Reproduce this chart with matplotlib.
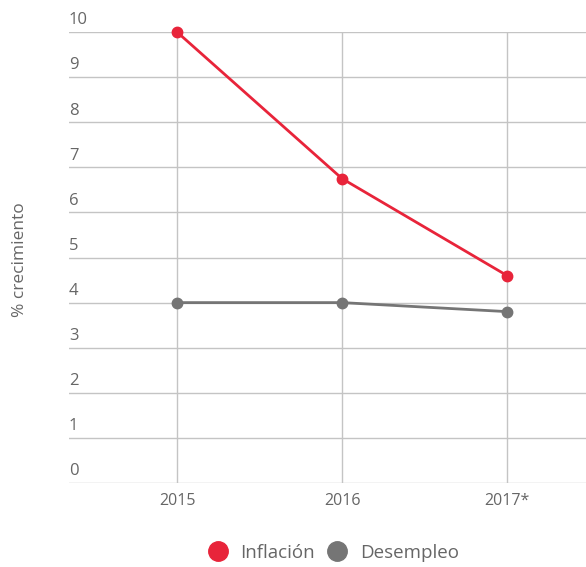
import numpy as np
import matplotlib.pyplot as plt
import matplotlib.transforms as mtrans
from matplotlib.lines import Line2D

plt.rcParams['font.family'] = ['Open Sans', 'DejaVu Sans']

years = ['2015', '2016', '2017*']
inflacion = [10.0, 6.75, 4.6]
desempleo = [4.0, 4.0, 3.8]
yticks = list(range(0, 11))

red = '#e8243a'
grey = '#757575'
txt = '#666666'

fig = plt.figure(figsize=(5.86, 5.67), dpi=100)
ax = fig.add_axes([69/586, 84/567, 1 - 69/586, 451/567])

x = np.arange(len(years))
ax.plot(x, inflacion, color=red, lw=2, marker='o', ms=7.5, clip_on=False, zorder=4)
ax.plot(x, desempleo, color=grey, lw=2, marker='o', ms=7.5, clip_on=False, zorder=3)

ax.set_ylim(0, 10)
ax.set_xlim(-108/165, 2 + 79/165)
ax.set_yticks(yticks)
ax.set_xticks(x)
ax.set_xticklabels(years, color=txt, fontsize=11.5)
ax.tick_params(axis='both', length=0)
ax.tick_params(axis='x', pad=7)
ax.tick_params(axis='y', labelleft=False)
ax.grid(True, color='#c4c4c4', lw=1)
ax.set_axisbelow(True)
for s in ax.spines.values():
    s.set_visible(False)

# y labels sit just above their gridlines
trans = mtrans.blended_transform_factory(ax.transAxes, ax.transData)
for v in yticks:
    ax.text(0.0, v + 0.08, str(v), transform=trans, ha='left', va='bottom',
            color=txt, fontsize=12)

fig.text(20/586, 1 - 260/567, '% crecimiento', rotation=90, ha='center', va='center',
         color=txt, fontsize=12.5)

handles = [Line2D([], [], ls='none', marker='o', ms=14, color=red),
           Line2D([], [], ls='none', marker='o', ms=14, color=grey)]
fig.legend(handles, ['Inflación', 'Desempleo'], loc='center', bbox_to_anchor=(329/586, 1 - 553/567),
           ncol=2, frameon=False, fontsize=13.5, handletextpad=0.2, columnspacing=0.2,
           labelcolor=txt)

fig.savefig('out.png', dpi=100)
